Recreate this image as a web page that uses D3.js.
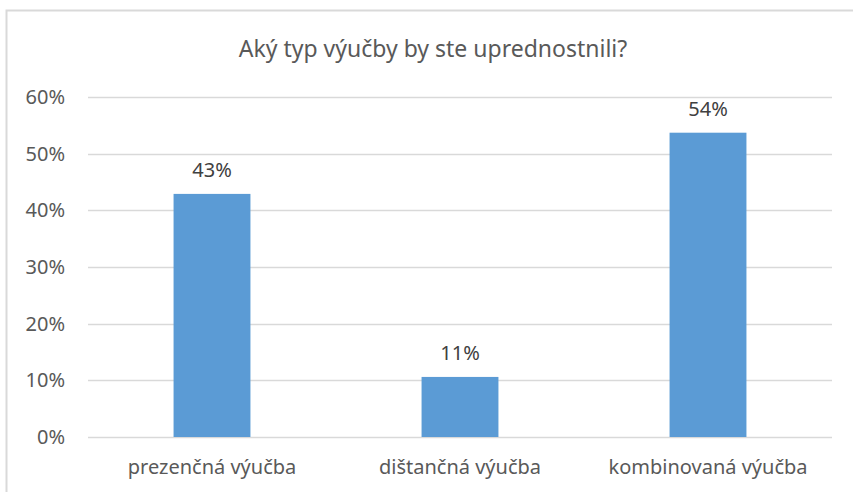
<!DOCTYPE html>
<html>
<head>
<meta charset="utf-8">
<script src="https://cdn.jsdelivr.net/npm/d3@7"></script>
<style>
    body { margin: 0; background: #fff; }
    svg { display: block; }
    text { font-family: "Noto Sans", "Open Sans", sans-serif; }
</style>
</head>
<body>
<div id="chart"></div>
<script>
// Chart data
const categories = ["prezenčná výučba", "dištančná výučba", "kombinovaná výučba"];
const values = [42.9, 10.6, 53.7];
const valueLabels = ["43%", "11%", "54%"];
const yTicks = [0, 10, 20, 30, 40, 50, 60];
const chartTitle = "Aký typ výučby by ste uprednostnili?";

const width = 853;
const height = 492;
const margin = { top: 97, right: 21, bottom: 55, left: 88 };
const labelSize = 20;

const svg = d3.select("#chart")
    .append("svg")
    .attr("width", width)
    .attr("height", height);

// Chart frame (runs off the right and bottom edges)
svg.append("rect")
    .attr("x", 6.5)
    .attr("y", 10.5)
    .attr("width", width + 10)
    .attr("height", height + 10)
    .attr("fill", "none")
    .attr("stroke", "#d9d9d9")
    .attr("stroke-width", 2);

const x = d3.scaleBand()
    .domain(categories)
    .range([margin.left, width - margin.right])
    .paddingInner(0.69)
    .paddingOuter(0.345);

const y = d3.scaleLinear()
    .domain([0, 60])
    .range([height - margin.bottom, margin.top]);

// Gridlines
svg.append("g")
    .selectAll("line")
    .data(yTicks)
    .join("line")
    .attr("x1", margin.left)
    .attr("x2", width - margin.right)
    .attr("y1", d => Math.round(y(d)) + 0.5)
    .attr("y2", d => Math.round(y(d)) + 0.5)
    .attr("stroke", "#d9d9d9")
    .attr("stroke-width", 1.3);

// Y axis labels
svg.append("g")
    .selectAll("text")
    .data(yTicks)
    .join("text")
    .attr("x", 65)
    .attr("y", d => y(d) + 7)
    .attr("text-anchor", "end")
    .attr("font-size", labelSize)
    .attr("fill", "#595959")
    .text(d => d + "%");

// Bars
svg.append("g")
    .selectAll("rect")
    .data(values)
    .join("rect")
    .attr("x", (d, i) => x(categories[i]))
    .attr("width", x.bandwidth())
    .attr("y", d => y(d))
    .attr("height", d => y(0) - y(d))
    .attr("fill", "#5b9bd5");

// Value labels
svg.append("g")
    .selectAll("text")
    .data(values)
    .join("text")
    .attr("x", (d, i) => x(categories[i]) + x.bandwidth() / 2)
    .attr("y", d => y(d) - 17)
    .attr("text-anchor", "middle")
    .attr("font-size", labelSize)
    .attr("fill", "#404040")
    .text((d, i) => valueLabels[i]);

// Category labels
svg.append("g")
    .selectAll("text")
    .data(categories)
    .join("text")
    .attr("x", d => x(d) + x.bandwidth() / 2)
    .attr("y", 474)
    .attr("text-anchor", "middle")
    .attr("font-size", labelSize)
    .attr("fill", "#595959")
    .text(d => d);

// Title
svg.append("text")
    .attr("x", 433)
    .attr("y", 57)
    .attr("text-anchor", "middle")
    .attr("font-size", 23)
    .attr("fill", "#595959")
    .text(chartTitle);
</script>
</body>
</html>
